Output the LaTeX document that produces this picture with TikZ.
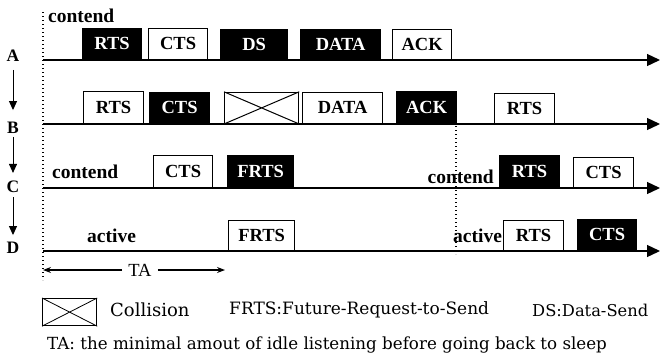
\documentclass[tikz,border=0pt]{standalone}
\usepackage{fontspec}
\setmainfont{Liberation Serif}
\newfontfamily\legendfont{DejaVu Serif}
\usetikzlibrary{arrows.meta}

% packet box: style, name, left x, right x, top y, baseline y, label
\newcommand\pktbox[7]{%
  \node[#1, minimum width={(#4-#3)*1pt}, minimum height={(#6-#5)*1pt}] (#2) at (#3,#6) {#7};}

\begin{document}
\begin{tikzpicture}[x=1pt,y=-1pt,
  pkt/.style={draw=black, line width=1.2pt, anchor=south west, inner sep=0pt,
    font=\fontsize{18.5}{18.5}\selectfont\bfseries},
  pw/.style={pkt, fill=white, text=black},
  pb/.style={pkt, fill=black, text=white},
  pc/.style={pkt, fill=white},
  timeline/.style={line width=1.3pt, -{Triangle[length=13pt,width=12pt]}},
  guide/.style={line width=1.3pt, dash pattern=on 1.3pt off 2.7pt},
  state/.style={inner sep=0pt, font=\fontsize{19.5}{19.5}\selectfont\bfseries},
  station/.style={inner sep=0pt, font=\fontsize{17.5}{17.5}\selectfont\bfseries},
  step arrow/.style={line width=1pt, -{Triangle[length=9pt,width=8pt]}},
  span arrow/.style={line width=1.1pt, -{Stealth[length=8pt,width=6pt]}},
  legend/.style={inner sep=0pt, anchor=west, font=\legendfont\fontsize{17}{17}\selectfont},
]
\useasboundingbox (0,0) rectangle (661,359);

% vertical guides
\coordinate (g1t) at (43,12);  \coordinate (g1b) at (43,280);
\coordinate (g2t) at (456,126); \coordinate (g2b) at (456,254);
\draw[guide] (g1t) -- (g1b);
\draw[guide] (g2t) -- (g2b);

% time lines
\foreach \n/\y in {A/60,B/124,C/188,D/251}{
  \coordinate (\n0) at (43,\y);
  \coordinate (\n1) at (660,\y);
  \draw[timeline] (\n0) -- (\n1);
}

% station labels and the order arrows
\node[station] (sA) at (13,56) {A};
\node[station] (sB) at (13,128) {B};
\node[station] (sC) at (13,187) {C};
\node[station] (sD) at (13,248) {D};
\draw[step arrow, shorten <=8pt, shorten >=12pt] (sA) -- (sB);
\draw[step arrow, shorten <=3pt, shorten >=8pt] (sB) -- (sC);
\draw[step arrow, shorten <=4pt, shorten >=7pt] (sC) -- (sD);

% station A
\node[state, anchor=west] (contA) at (48,16) {contend};
\pktbox{pb}{a1}{82}{141}{29}{60}{RTS}
\pktbox{pw}{a2}{148}{207}{29}{60}{CTS}
\pktbox{pb}{a3}{220}{287}{30}{60}{DS}
\pktbox{pb}{a4}{300}{380}{30}{60}{DATA}
\pktbox{pw}{a5}{392}{451}{30}{60}{ACK}

% station B
\pktbox{pw}{b1}{83}{143}{92}{124}{RTS}
\pktbox{pb}{b2}{149}{209}{93}{124}{CTS}
\pktbox{pc}{b3}{224}{298}{93}{124}{}
\draw[line width=1pt] (b3.north west) -- (b3.south east) (b3.south west) -- (b3.north east);
\pktbox{pw}{b4}{302}{382}{93}{124}{DATA}
\pktbox{pb}{b5}{396}{456}{92}{124}{ACK}
\pktbox{pw}{b6}{494}{554}{94}{124}{RTS}

% station C
\node[state, anchor=west] (contC1) at (52,172) {contend};
\pktbox{pw}{c1}{153}{212}{156}{188}{CTS}
\pktbox{pb}{c2}{227}{293}{156}{188}{FRTS}
\node[state, anchor=east] (contC2) at (494,177) {contend};
\pktbox{pb}{c3}{499}{559}{156}{188}{RTS}
\pktbox{pw}{c4}{573}{633}{158}{188}{CTS}

% station D
\node[state, anchor=west] (actD1) at (87,236) {active};
\pktbox{pw}{d1}{228}{294}{221}{251}{FRTS}
\node[state, anchor=west] (actD2) at (453,236) {active};
\pktbox{pw}{d2}{503}{563}{221}{251}{RTS}
\pktbox{pb}{d3}{577}{636}{220}{251}{CTS}

% TA span
\node[inner sep=0pt, font=\fontsize{18.5}{18.5}\selectfont] (ta) at (140,270) {TA};
\coordinate (taL) at (43,270);
\coordinate (taR) at (225,270);
\draw[span arrow, shorten <=6pt] (ta.west) -- (taL);
\draw[span arrow, shorten <=6pt] (ta.east) -- (taR);

% legend
\node[draw, line width=1.2pt, minimum width=54pt, minimum height=27pt, inner sep=0pt, anchor=north west]
  (lgbox) at (42,298) {};
\draw[line width=0.8pt] (lgbox.north west) -- (lgbox.south east) (lgbox.south west) -- (lgbox.north east);
\node[legend, font=\legendfont\fontsize{18}{18}\selectfont] (lgcol) at (110,310) {Collision};
\node[legend] (lgfrts) at (229,310) {FRTS:Future-Request-to-Send};
\node[legend, font=\legendfont\fontsize{16.3}{16.3}\selectfont] (lgds) at (532,310) {DS:Data-Send};
\node[legend, font=\legendfont\fontsize{16.7}{16.7}\selectfont] (lgta) at (47,345)
  {TA: the minimal amout of idle listening before going back to sleep};
\end{tikzpicture}
\end{document}
